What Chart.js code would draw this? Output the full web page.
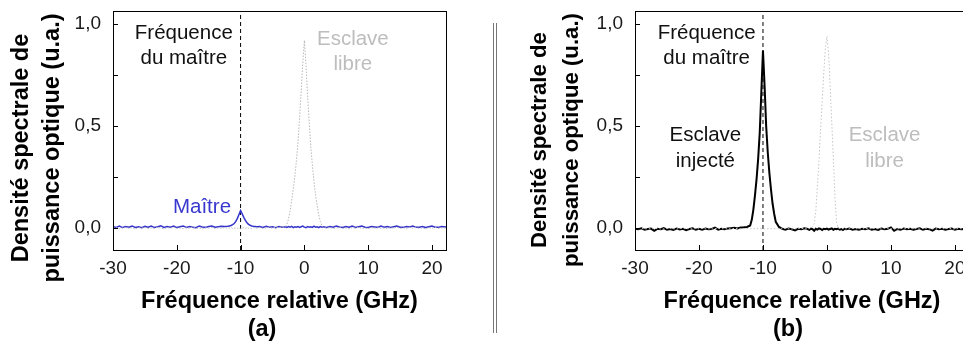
<!DOCTYPE html>
<html>
<head>
<meta charset="utf-8">
<script src="https://cdn.jsdelivr.net/npm/chart.js@4.4.1/dist/chart.umd.min.js"></script>
<style>
  html, body { margin: 0; padding: 0; background: #fff; overflow: hidden; }
  #wrap { position: relative; width: 963px; height: 345px; overflow: hidden; }
  #chartA { position: absolute; left: 0; top: 0; }
  #chartB { position: absolute; left: 520px; top: 0; }
  #sep { position: absolute; left: 493px; top: 23px; width: 2px; height: 310px;
         border-left: 1px solid #777; border-right: 1px solid #777; }
</style>
</head>
<body>
<div id="wrap">
  <canvas id="chartA" width="470" height="345"></canvas>
  <div id="sep"></div>
  <canvas id="chartB" width="463" height="345"></canvas>
</div>
<script>
// frequency grid (GHz), finer near the peaks
const freq = [
  -30, -29.5, -29, -28.5, -28, -27.5, -27, -26.5, -26, -25.5, -25, -24.5, -24, -23.5, -23, -22.5, -22, -21.5,
  -21, -20.5, -20, -19.5, -19, -18.5, -18, -17.5, -17, -16.5, -16, -15.5, -15, -14.5, -14, -13.5, -13, -12.5,
  -12, -11.75, -11.5, -11.25, -11, -10.75, -10.5, -10.25, -10, -9.75, -9.5, -9.25, -9, -8.75, -8.5, -8.25, -8,
  -7.5, -7, -6.5, -6, -5.5, -5, -4.5, -4, -3.5,
  -3, -2.75, -2.5, -2.25, -2, -1.75, -1.5, -1.25, -1, -0.75, -0.5, -0.25, 0, 0.25, 0.5, 0.75, 1, 1.25, 1.5,
  1.75, 2, 2.25, 2.5, 2.75, 3,
  3.5, 4, 4.5, 5, 5.5, 6, 6.5, 7, 7.5, 8, 8.5, 9, 9.5, 10, 10.5, 11, 11.5, 12, 12.5, 13, 13.5, 14, 14.5, 15,
  15.5, 16, 16.5, 17, 17.5, 18, 18.5, 19, 19.5, 20, 20.5, 21, 21.5, 22.2
];

// (a) master alone (blue)
const maitreA = [
  0.006, 0.003, 0.009, 0.002, 0.007, 0.004, 0.010, 0.003, 0.006, 0.001, 0.008, 0.004, 0.009, 0.002, 0.006, 0.011, 0.003, 0.007,
  0.004, 0.009, 0.002, 0.006, 0.010, 0.003, 0.007, 0.004, 0.001, 0.009, 0.005, 0.003, 0.007, 0.010, 0.004, 0.006, 0.008, 0.007,
  0.008, 0.010, 0.012, 0.016, 0.022, 0.032, 0.047, 0.066, 0.085, 0.070, 0.052, 0.037, 0.026, 0.018, 0.013, 0.010, 0.008,
  0.006, 0.007, 0.003, 0.008, 0.004, 0.006, 0.001, 0.007, 0.004,
  0.006, 0.003, 0.007, 0.004, 0.008, 0.002, 0.006, 0.004, 0.007, 0.003, 0.006, 0.009, 0.004, 0.001, 0.007, 0.004, 0.006, 0.003, 0.009,
  0.004, 0.006, 0.002, 0.007, 0.004, 0.006,
  0.003, 0.007, 0.004, 0.009, 0.005, 0.002, 0.007, 0.004, 0.010, 0.003, 0.006, 0.009, 0.004, 0.002, 0.007, 0.005, 0.003, 0.009, 0.004,
  0.007, 0.002, 0.006, 0.010, 0.004, 0.003, 0.007, 0.005, 0.009, 0.003, 0.004, 0.007, 0.002, 0.006, 0.009, 0.004, 0.003, 0.007, 0.005
];

// (a) free-running slave (grey dotted)
const libreA = [
  -0.001, 0.002, -0.004, 0.000, 0.003, -0.002, 0.001, -0.005, 0.002, -0.001, 0.003, -0.003, 0.000, -0.002, 0.004, -0.001, -0.004, 0.002,
  -0.001, 0.003, -0.002, 0.000, -0.003, 0.002, -0.001, 0.004, -0.002, 0.000, -0.004, 0.002, -0.001, 0.003, -0.003, 0.000, -0.001, 0.002,
  -0.002, 0.000, 0.003, -0.003, -0.001, 0.002, -0.002, 0.000, -0.004, -0.001, 0.002, -0.002, 0.003, -0.001, 0.000, -0.003, 0.002,
  -0.001, 0.003, -0.002, 0.000, 0.002, -0.001, 0.004, 0.002, 0.004,
  0.006, 0.018, 0.042, 0.082, 0.132, 0.190, 0.250, 0.330, 0.420, 0.540, 0.670, 0.810, 0.920, 0.800, 0.650, 0.520, 0.400, 0.310, 0.230,
  0.160, 0.110, 0.065, 0.032, 0.012, 0.002,
  -0.001, 0.002, -0.003, 0.000, 0.003, -0.002, 0.000, -0.004, 0.002, -0.001, 0.004, -0.002, 0.000, -0.003, 0.002, -0.001, 0.003, -0.002, 0.000,
  -0.004, 0.002, -0.001, 0.004, -0.002, 0.000, -0.003, 0.003, -0.001, 0.002, -0.002, 0.000, -0.004, 0.002, -0.001, 0.003, -0.002, 0.000, -0.001
];

// (b) injected slave (black)
const injecteB = [
  -0.004, -0.006, -0.002, -0.009, -0.005, -0.003, -0.014, -0.004, -0.006, -0.001, -0.008, -0.005, -0.010, -0.003, -0.007, -0.004, -0.011, -0.005,
  -0.002, -0.008, -0.004, -0.009, -0.003, -0.006, -0.005, 0.002, -0.008, -0.004, -0.006, -0.003, -0.001, 0.001, -0.002, 0.002, 0.003, 0.005,
  0.012, 0.040, 0.090, 0.160, 0.240, 0.340, 0.470, 0.670, 0.870, 0.700, 0.500, 0.370, 0.270, 0.190, 0.120, 0.070, 0.030,
  0.005, -0.004, -0.008, -0.003, -0.006, -0.012, -0.004, -0.006, -0.002,
  -0.005, -0.009, -0.003, -0.006, -0.014, -0.004, -0.008, -0.002, -0.005, -0.010, -0.004, -0.006, -0.003, -0.008, -0.005, -0.002, -0.009, -0.004, -0.006,
  -0.003, -0.008, -0.005, -0.010, -0.004, -0.006,
  -0.003, -0.008, -0.005, -0.009, -0.004, -0.006, -0.002, -0.008, -0.005, -0.010, -0.003, -0.006, -0.004, 0.003, -0.014, -0.005, -0.008, -0.003, -0.006,
  -0.004, -0.009, -0.005, -0.002, -0.008, -0.004, -0.006, -0.013, -0.003, -0.006, -0.004, -0.008, -0.005, -0.003, -0.009, -0.004, -0.006, -0.005, -0.004
];

// (b) free-running slave (grey dotted)
const libreB = [
  -0.003, -0.004, -0.002, -0.005, -0.003, -0.004, -0.002, -0.003, -0.005, -0.004, -0.002, -0.003, -0.004, -0.005, -0.003, -0.002, -0.004, -0.003,
  -0.005, -0.003, -0.004, -0.002, -0.003, -0.004, -0.005, -0.003, -0.002, -0.004, -0.003, -0.005, -0.004, -0.002, -0.003, -0.004, -0.003, -0.002,
  -0.004, -0.003, -0.005, -0.002, -0.004, -0.003, -0.002, -0.004, -0.003, -0.005, -0.003, -0.004, -0.002, -0.003, -0.004, -0.003, -0.005,
  -0.003, -0.004, -0.002, -0.003, -0.005, -0.004, -0.003, -0.002, -0.004,
  -0.004, -0.003, -0.002, 0.005, 0.020, 0.080, 0.200, 0.330, 0.480, 0.620, 0.760, 0.880, 0.940, 0.860, 0.700, 0.520, 0.340, 0.150, 0.030,
  0.000, -0.003, -0.004, -0.003, -0.005, -0.004,
  -0.003, -0.002, -0.004, -0.003, -0.005, -0.002, -0.004, -0.003, -0.002, -0.004, -0.005, -0.003, -0.002, -0.004, -0.003, -0.005, -0.002, -0.004, -0.003,
  -0.002, -0.004, -0.003, -0.005, -0.002, -0.003, -0.004, -0.003, -0.005, -0.002, -0.004, -0.003, -0.002, -0.004, -0.005, -0.003, -0.004, -0.002, -0.003
];

const masterFreq = -10;
const xTickValues = [-30, -20, -10, 0, 10, 20];
const yTickValues = [0, 0.25, 0.5, 0.75, 1];
const yTickLabels = ['0,0', '', '0,5', '', '1,0'];
const xTitle = 'Fréquence relative (GHz)';
const yTitle = ['Densité spectrale de', 'puissance optique (u.a.)'];

const FONT = "'Liberation Sans', Arial, Helvetica, sans-serif";
Chart.defaults.font.family = FONT;
Chart.defaults.color = '#1a1a1a';

const pts = arr => freq.map((f, i) => ({ x: f, y: arr[i] }));
const Y_MIN = -0.108, Y_MAX = 1.064;

// frame, inward ticks, titles and annotations
const decor = {
  id: 'decor',
  afterDraw(chart, args, o) {
    const { ctx, chartArea: a, scales: { x, y } } = chart;
    ctx.save();
    ctx.strokeStyle = '#000';
    ctx.lineWidth = 1;
    ctx.strokeRect(a.left + 0.5, a.top + 0.5, a.right - a.left, a.bottom - a.top);
    ctx.beginPath();
    x.ticks.forEach(t => {
      const px = Math.round(x.getPixelForValue(t.value)) + 0.5;
      ctx.moveTo(px, a.bottom);
      ctx.lineTo(px, a.bottom - 5);
    });
    y.ticks.forEach(t => {
      const py = Math.round(y.getPixelForValue(t.value)) + 0.5;
      ctx.moveTo(a.left, py);
      ctx.lineTo(a.left + 5, py);
    });
    ctx.stroke();

    ctx.textAlign = 'center';
    ctx.textBaseline = 'middle';
    o.notes.forEach(n => {
      ctx.fillStyle = n.color;
      ctx.font = '20.5px ' + FONT;
      ctx.fillText(n.text, x.getPixelForValue(n.x), y.getPixelForValue(n.y));
    });

    // y title, two rotated lines
    ctx.fillStyle = '#000';
    ctx.font = 'bold ' + o.yTitleSize + 'px ' + FONT;
    yTitle.forEach((line, i) => {
      ctx.save();
      ctx.translate(o.yTitleX[i], o.yTitleY);
      ctx.rotate(-Math.PI / 2);
      ctx.fillText(line, 0, 0);
      ctx.restore();
    });

    ctx.font = 'bold 23.5px ' + FONT;
    ctx.fillText(o.panel, o.panelX, 330);
    ctx.restore();
  }
};

function makeChart(id, datasets, yWidth, padRight, decorOpts) {
  return new Chart(document.getElementById(id), {
    type: 'line',
    data: { datasets: datasets.concat([{
      data: [{ x: masterFreq, y: Y_MIN }, { x: masterFreq, y: Y_MAX }],
      borderColor: '#000', borderWidth: 1, borderDash: [4, 3], pointRadius: 0
    }]) },
    options: {
      responsive: false,
      animation: false,
      layout: { padding: { left: 0, top: 11, right: padRight, bottom: 0 } },
      plugins: { legend: { display: false }, tooltip: { enabled: false }, decor: decorOpts },
      elements: { line: { tension: 0 }, point: { radius: 0 } },
      scales: {
        x: {
          type: 'linear', min: -30, max: 22.2,
          border: { display: false },
          grid: { display: false, drawTicks: false },
          afterBuildTicks: s => { s.ticks = xTickValues.map(v => ({ value: v })); },
          afterFit: s => { s.height = 95; s.paddingLeft = 0; s.paddingRight = 0; },
          ticks: { font: { size: 19 }, padding: 7, maxRotation: 0, autoSkip: false,
                   callback: v => String(v) },
          title: { display: true, text: xTitle, color: '#000',
                   font: { size: 23.5, weight: 'bold' }, padding: { top: 0, bottom: 29 } }
        },
        y: {
          type: 'linear', min: Y_MIN, max: Y_MAX,
          border: { display: false },
          grid: { display: false, drawTicks: false },
          afterBuildTicks: s => { s.ticks = yTickValues.map(v => ({ value: v })); },
          afterFit: s => { s.width = yWidth; s.paddingTop = 0; s.paddingBottom = 0; },
          ticks: { font: { size: 19 }, padding: 12,
                   callback: (v, i) => yTickLabels[i] }
        }
      }
    },
    plugins: [decor]
  });
}

makeChart('chartA', [
  { data: pts(libreA), borderColor: '#b8b8b8', borderWidth: 1, borderDash: [1.5, 1.5] },
  { data: pts(maitreA), borderColor: '#3434cc', borderWidth: 1.5 }
], 113, 24, {
  notes: [
    { text: 'Fréquence', x: -18.9, y: 0.956, color: '#111' },
    { text: 'du maître', x: -18.9, y: 0.833, color: '#111' },
    { text: 'Esclave', x: 7.6, y: 0.926, color: '#bdbdbd' },
    { text: 'libre', x: 7.6, y: 0.804, color: '#bdbdbd' },
    { text: 'Maître', x: -16.05, y: 0.103, color: '#3838d0' }
  ],
  yTitleX: [22, 53], yTitleY: 148, yTitleSize: 23.5,
  panel: '(a)', panelX: 262
});

makeChart('chartB', [
  { data: pts(libreB), borderColor: '#c4c4c4', borderWidth: 1, borderDash: [1.5, 2] },
  { data: pts(injecteB), borderColor: '#000', borderWidth: 2 }
], 115, 14, {
  notes: [
    { text: 'Fréquence', x: -18.8, y: 0.956, color: '#111' },
    { text: 'du maître', x: -18.8, y: 0.833, color: '#111' },
    { text: 'Esclave', x: -19.0, y: 0.456, color: '#111' },
    { text: 'injecté', x: -19.0, y: 0.328, color: '#111' },
    { text: 'Esclave', x: 9.0, y: 0.456, color: '#bdbdbd' },
    { text: 'libre', x: 9.0, y: 0.328, color: '#bdbdbd' }
  ],
  yTitleX: [20, 52], yTitleY: 140, yTitleSize: 22.2,
  panel: '(b)', panelX: 268
});
</script>
</body>
</html>
